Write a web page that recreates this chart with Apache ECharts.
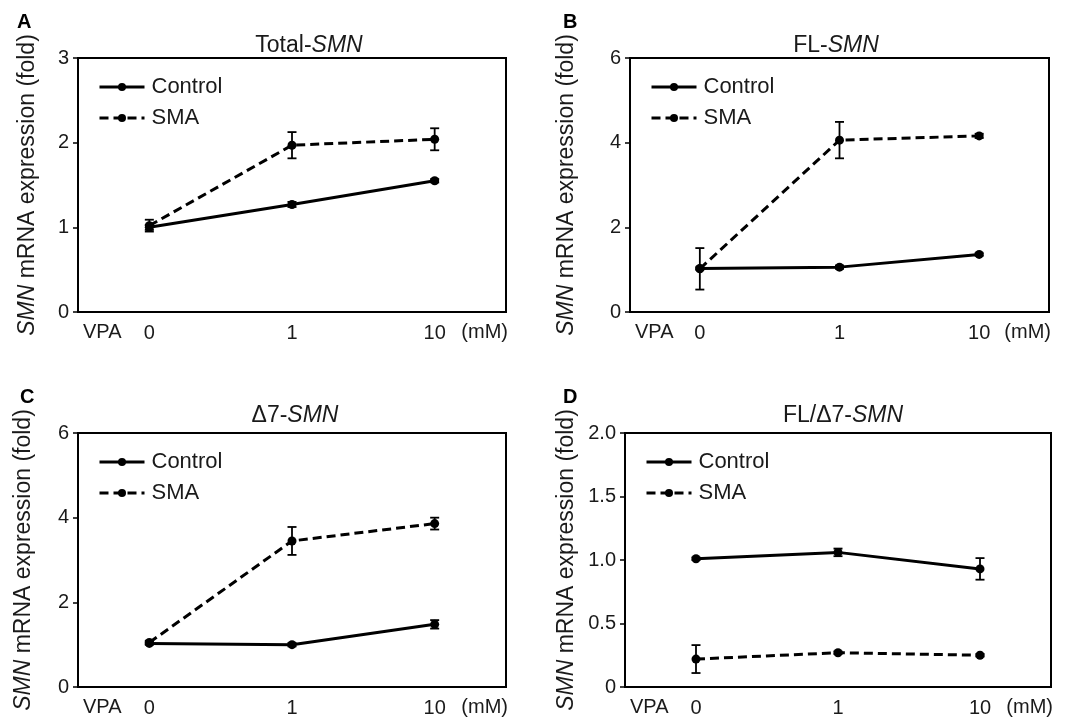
<!DOCTYPE html>
<html>
<head>
<meta charset="utf-8">
<script src="https://cdn.jsdelivr.net/npm/echarts@6/dist/echarts.min.js"></script>
<style>
html,body{margin:0;padding:0;background:#fff;}
#c{width:1073px;height:718px;}
</style>
</head>
<body>
<div id="c"></div>
<script>
// ---- Data ----
const categories = ['0', '1', '10'];
const seriesNames = ['Control', 'SMA'];

const totalControl    = [1.00, 1.27, 1.55];
const totalControlErr = [0.03, 0.03, 0.02];
const totalSMA        = [1.02, 1.97, 2.04];
const totalSMAErr     = [0.07, 0.155, 0.13];

const flControl    = [1.03, 1.06, 1.36];
const flControlErr = [0.03, 0.04, 0.03];
const flSMA        = [1.02, 4.06, 4.16];
const flSMAErr     = [0.49, 0.43, 0.05];

const d7Control    = [1.03, 1.00, 1.48];
const d7ControlErr = [0.03, 0.04, 0.10];
const d7SMA        = [1.05, 3.45, 3.86];
const d7SMAErr     = [0.04, 0.33, 0.14];

const ratioControl    = [1.01, 1.06, 0.93];
const ratioControlErr = [0.01, 0.03, 0.085];
const ratioSMA        = [0.22, 0.27, 0.25];
const ratioSMAErr     = [0.11, 0.01, 0.01];

const panelTitles = ['Total-', 'FL-', '\u03947-', 'FL/\u03947-'];
const panelLetters = ['A', 'B', 'C', 'D'];
const yMax = [3, 6, 6, 2];
const yInterval = [1, 2, 2, 0.5];

const panels = [
  {c: totalControl, ce: totalControlErr, s: totalSMA, se: totalSMAErr},
  {c: flControl, ce: flControlErr, s: flSMA, se: flSMAErr},
  {c: d7Control, ce: d7ControlErr, s: d7SMA, se: d7SMAErr},
  {c: ratioControl, ce: ratioControlErr, s: ratioSMA, se: ratioSMAErr}
];

// ---- Layout ----
const FONT = '"Liberation Sans", Arial, sans-serif';
const TXT = '#1a1a1a';
const grids = [
  {left: 78, top: 58, width: 428, height: 254},
  {left: 630, top: 58, width: 419, height: 254},
  {left: 78, top: 433, width: 428, height: 254},
  {left: 625, top: 433, width: 426, height: 254}
];
const nameGaps = [39, 52, 43, 47];
const titlePos = [[304, 29], [831, 29], [290, 399], [838, 399]];
const letterPos = [[17, 12], [563, 12], [20, 387], [563, 387]];

const chart = echarts.init(document.getElementById('c'), null, {renderer: 'canvas'});

function errRender(params, api) {
  const x = api.value(0), v = api.value(1), e = api.value(2);
  const top = api.coord([x, v + e]);
  const bot = api.coord([x, v - e]);
  const hw = 4.5;
  const st = {stroke: '#000', lineWidth: 1.8};
  return {
    type: 'group',
    children: [
      {type: 'line', shape: {x1: top[0], y1: top[1], x2: bot[0], y2: bot[1]}, style: st},
      {type: 'line', shape: {x1: top[0] - hw, y1: top[1], x2: top[0] + hw, y2: top[1]}, style: st},
      {type: 'line', shape: {x1: bot[0] - hw, y1: bot[1], x2: bot[0] + hw, y2: bot[1]}, style: st}
    ]
  };
}

const option = {
  backgroundColor: '#fff',
  animation: false,
  textStyle: {fontFamily: FONT},
  grid: grids.map(g => Object.assign({show: true, borderColor: '#000', borderWidth: 2, containLabel: false}, g)),
  title: panelTitles.map((t, i) => ({
    text: t + '{i|SMN}',
    left: titlePos[i][0], top: titlePos[i][1], textAlign: 'center',
    textStyle: {fontFamily: FONT, fontSize: 23, fontWeight: 'normal', color: TXT,
      rich: {i: {fontFamily: FONT, fontSize: 23, fontStyle: 'italic', color: TXT}}}
  })),
  legend: grids.map((g, i) => ({
    orient: 'vertical',
    left: g.left + 15, top: g.top + 13,
    itemWidth: 45, itemHeight: 10, itemGap: 9,
    lineStyle: {width: 3},
    data: seriesNames.map(n => ({name: n})),
    textStyle: {fontFamily: FONT, fontSize: 22, color: TXT, padding: [0, 0, 0, 2]}
  })),
  xAxis: grids.map((g, i) => ({
    type: 'category', gridIndex: i, data: categories, boundaryGap: true,
    axisLine: {lineStyle: {color: '#000', width: 2}},
    axisTick: {show: false},
    axisLabel: {fontFamily: FONT, fontSize: 20, color: TXT, margin: 11},
    splitLine: {show: false}
  })),
  yAxis: grids.map((g, i) => ({
    type: 'value', gridIndex: i, min: 0, max: yMax[i], interval: yInterval[i],
    name: '{i|SMN} mRNA expression (fold)',
    nameLocation: 'middle', nameRotate: 90, nameGap: nameGaps[i],
    nameTextStyle: {fontFamily: FONT, fontSize: 23, color: TXT,
      rich: {i: {fontFamily: FONT, fontSize: 23, fontStyle: 'italic', color: TXT}}},
    axisLine: {show: true, lineStyle: {color: '#000', width: 2}},
    axisTick: {show: true, length: 5, lineStyle: {color: '#000', width: 1.5}},
    axisLabel: {fontFamily: FONT, fontSize: 20, color: TXT, margin: 9,
      formatter: v => (yInterval[i] < 1 && v !== 0) ? v.toFixed(1) : String(v)},
    splitLine: {show: false}
  })),
  series: [],
  graphic: []
};

panels.forEach((p, i) => {
  option.series.push({
    name: 'Control', type: 'line', xAxisIndex: i, yAxisIndex: i,
    data: p.c, symbol: 'circle', symbolSize: 9,
    lineStyle: {color: '#000', width: 3, type: 'solid'},
    itemStyle: {color: '#000'}, z: 3
  });
  option.series.push({
    name: 'SMA', type: 'line', xAxisIndex: i, yAxisIndex: i,
    data: p.s, symbol: 'circle', symbolSize: 9,
    lineStyle: {color: '#000', width: 3, type: [9, 5]},
    itemStyle: {color: '#000'}, z: 3
  });
  option.series.push({
    type: 'custom', xAxisIndex: i, yAxisIndex: i, renderItem: errRender, z: 4,
    data: p.c.map((v, k) => [k, v, p.ce[k]])
  });
  option.series.push({
    type: 'custom', xAxisIndex: i, yAxisIndex: i, renderItem: errRender, z: 4,
    data: p.s.map((v, k) => [k, v, p.se[k]])
  });
  const g = grids[i];
  option.graphic.push({
    type: 'text', left: letterPos[i][0], top: letterPos[i][1],
    style: {text: panelLetters[i], font: 'bold 20px ' + FONT, fill: '#000'}
  });
  option.graphic.push({
    type: 'text', left: g.left + 5, top: g.top + g.height + 10,
    style: {text: 'VPA', font: '20px ' + FONT, fill: TXT}
  });
  option.graphic.push({
    type: 'text', right: 1073 - (g.left + g.width) - 2, top: g.top + g.height + 10,
    style: {text: '(mM)', font: '20px ' + FONT, fill: TXT}
  });
});

chart.setOption(option);
</script>
</body>
</html>
